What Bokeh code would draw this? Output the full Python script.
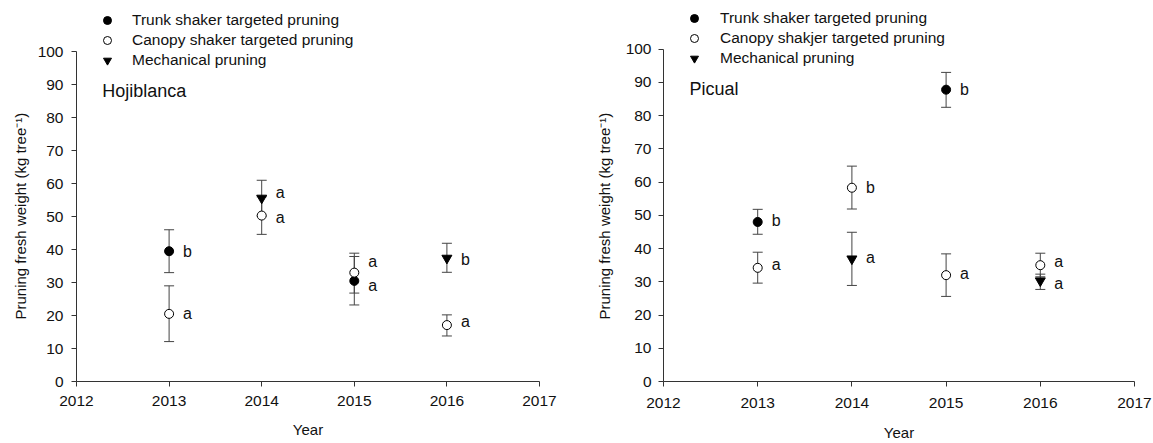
from bokeh.plotting import figure
from bokeh.models import (ColumnDataSource, Whisker, TeeHead, Legend, LegendItem,
                          FixedTicker, Range1d, Label, Title)
from bokeh.layouts import row
from bokeh.embed import file_html
from bokeh.resources import INLINE
from bokeh.core.properties import value

FONT = "Liberation Sans"

# ---------------- data ----------------
years = [2013, 2014, 2015, 2016]
x_ticks = [2012, 2013, 2014, 2015, 2016, 2017]
y_ticks = [0, 10, 20, 30, 40, 50, 60, 70, 80, 90, 100]

# Hojiblanca
hoj_trunk = [39.5, None, 30.5, None]
hoj_trunk_lo = [33.0, None, 23.2, None]
hoj_trunk_hi = [46.0, None, 37.9, None]
hoj_trunk_let = ["b", None, "a", None]
hoj_trunk_let_y = [39.5, None, 29.1, None]

hoj_canopy = [20.5, 50.3, 33.0, 17.1]
hoj_canopy_lo = [12.1, 44.6, 26.8, 13.8]
hoj_canopy_hi = [29.0, 56.0, 38.9, 20.2]
hoj_canopy_let = ["a", "a", "a", "a"]
hoj_canopy_let_y = [20.7, 49.6, 36.4, 18.2]

hoj_mech = [None, 55.6, None, 37.4]
hoj_mech_lo = [None, 50.2, None, 33.1]
hoj_mech_hi = [None, 61.0, None, 41.9]
hoj_mech_let = [None, "a", None, "b"]
hoj_mech_let_y = [None, 57.3, None, 37.1]

# Picual
pic_trunk = [48.0, None, 87.8, None]
pic_trunk_lo = [44.3, None, 82.5, None]
pic_trunk_hi = [51.8, None, 93.0, None]
pic_trunk_let = ["b", None, "b", None]
pic_trunk_let_y = [48.5, None, 87.8, None]

pic_canopy = [34.2, 58.3, 32.0, 35.0]
pic_canopy_lo = [29.6, 51.9, 25.6, 31.5]
pic_canopy_hi = [38.9, 64.8, 38.4, 38.6]
pic_canopy_let = ["a", "b", "a", "a"]
pic_canopy_let_y = [35.2, 58.4, 32.4, 36.2]

pic_mech = [None, 36.9, None, 30.3]
pic_mech_lo = [None, 28.9, None, 27.7]
pic_mech_hi = [None, 44.9, None, 32.3]
pic_mech_let = [None, "a", None, "a"]
pic_mech_let_y = [None, 37.2, None, 29.5]

hoj_legend = ["Trunk shaker targeted pruning", "Canopy shaker targeted pruning", "Mechanical pruning"]
pic_legend = ["Trunk shaker targeted pruning", "Canopy shakjer targeted pruning", "Mechanical pruning"]

y_label = "Pruning fresh weight (kg tree\u207b\u00b9)"
x_label = "Year"

STYLES = [
    dict(marker="circle", size=9, fill_color="black", line_color="black"),
    dict(marker="circle", size=9, fill_color="white", line_color="black"),
    dict(marker="inverted_triangle", size=10, fill_color="black", line_color="black"),
]


def src(vals, lo, hi, let, let_y):
    d = dict(x=[], y=[], lo=[], hi=[], let=[], ly=[])
    for i, v in enumerate(vals):
        if v is None:
            continue
        d["x"].append(years[i]); d["y"].append(v)
        d["lo"].append(lo[i]); d["hi"].append(hi[i])
        d["let"].append(let[i]); d["ly"].append(let_y[i])
    return ColumnDataSource(d)


def panel(name, series, labels, width, y_top, mb_left, mb_right,
          name_xy, legend_loc, legend_standoff, xtick_standoff, xlabel_standoff,
          ylab_offset, ylab_standoff, ytick_standoff):
    p = figure(width=width, height=443, x_range=Range1d(2012, 2017), y_range=Range1d(0, y_top),
               output_backend="svg", toolbar_location=None,
               min_border_left=mb_left, min_border_right=mb_right,
               min_border_top=5, min_border_bottom=59)
    p.outline_line_color = None
    p.xgrid.visible = False
    p.ygrid.visible = False
    p.background_fill_color = "white"
    p.border_fill_color = "white"

    for ax, ticks in ((p.xaxis, x_ticks), (p.yaxis, y_ticks)):
        ax.ticker = FixedTicker(ticks=ticks)
        ax.minor_tick_line_color = None
        ax.major_tick_in = 0
        ax.major_tick_out = 5
        ax.axis_line_color = "#333333"
        ax.major_tick_line_color = "#333333"
        ax.major_label_text_font = FONT
        ax.major_label_text_font_size = "15.5px"
        ax.major_label_text_color = "#111111"
        ax.axis_label_text_font = FONT
        ax.axis_label_text_font_style = "normal"
        ax.axis_label_text_color = "#111111"
    p.yaxis.bounds = (0, 100)
    p.xaxis.major_label_standoff = xtick_standoff
    p.yaxis.major_label_standoff = ytick_standoff
    p.xaxis.axis_label = x_label
    p.xaxis.axis_label_text_font_size = "15px"
    p.xaxis.axis_label_standoff = xlabel_standoff

    # vertical axis title placed as a side Title so it spans only the 0-100 part
    p.add_layout(Title(text=y_label, align="left", offset=ylab_offset, standoff=ylab_standoff,
                       text_font=FONT, text_font_size="15px", text_font_style="normal",
                       text_color="#111111"), "left")

    items = []
    for (s, st, lab) in zip(series, STYLES, labels):
        w = Whisker(source=s, base="x", upper="hi", lower="lo", dimension="height",
                    line_color="#444444", line_width=1,
                    upper_head=TeeHead(size=10, line_color="#444444", line_width=1),
                    lower_head=TeeHead(size=10, line_color="#444444", line_width=1))
        p.add_layout(w)
        r = p.scatter(x="x", y="y", source=s, line_width=1, **st)
        p.text(x="x", y="ly", text="let", source=s, x_offset=14, text_baseline="middle",
               text_align="left", text_font=value(FONT), text_font_size="16px",
               text_color="#111111")
        items.append(LegendItem(label=lab, renderers=[r]))

    legend = Legend(items=items, location=legend_loc, orientation="vertical",
                    glyph_width=20, glyph_height=20, label_height=20, spacing=0,
                    padding=0, margin=0, label_standoff=legend_standoff,
                    border_line_alpha=0, background_fill_alpha=0,
                    label_text_font=FONT, label_text_font_size="15.5px",
                    label_text_color="#111111")
    p.add_layout(legend)

    p.add_layout(Label(x=name_xy[0], y=name_xy[1], text=name, text_baseline="middle",
                       text_font=FONT, text_font_size="18px", text_color="#111111"))
    return p


hoj_series = [
    src(hoj_trunk, hoj_trunk_lo, hoj_trunk_hi, hoj_trunk_let, hoj_trunk_let_y),
    src(hoj_canopy, hoj_canopy_lo, hoj_canopy_hi, hoj_canopy_let, hoj_canopy_let_y),
    src(hoj_mech, hoj_mech_lo, hoj_mech_hi, hoj_mech_let, hoj_mech_let_y),
]
pic_series = [
    src(pic_trunk, pic_trunk_lo, pic_trunk_hi, pic_trunk_let, pic_trunk_let_y),
    src(pic_canopy, pic_canopy_lo, pic_canopy_hi, pic_canopy_let, pic_canopy_let_y),
    src(pic_mech, pic_mech_lo, pic_mech_hi, pic_mech_let, pic_mech_let_y),
]

p1 = panel("Hojiblanca", hoj_series, hoj_legend, 580, 113.98, 76, 41,
           (2012.279, 88.1), (21, 311), 15, 9, 12, 62, 12, 8)
p2 = panel("Picual", pic_series, pic_legend, 573, 113.13, 83, 19,
           (2012.276, 88.06), (21, 313), 16, 11, 13, 62, 20, 7)

layout = row(p1, p2)
open("out.html", "w").write(file_html(layout, INLINE))
